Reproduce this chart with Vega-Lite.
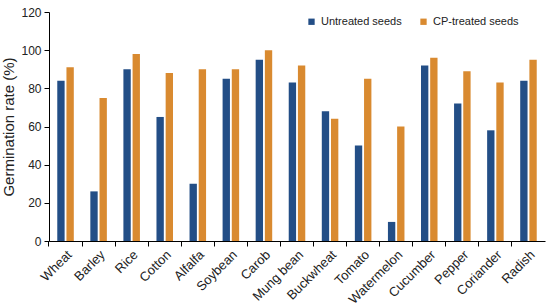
{
  "$schema": "https://vega.github.io/schema/vega-lite/v6.json",
  "width": 496,
  "height": 229,
  "autosize": {"type": "none"},
  "padding": {"left": 49, "top": 12, "right": 5, "bottom": 67},
  "background": "white",
  "config": {
    "font": "Liberation Sans",
    "view": {"stroke": null},
    "axis": {"domainColor": "#000", "tickColor": "#000", "labelColor": "#222", "titleColor": "#222"}
  },
  "data": {
    "values": [
      {"crop": "Wheat", "treatment": "Untreated seeds", "rate": 84},
      {"crop": "Wheat", "treatment": "CP-treated seeds", "rate": 91},
      {"crop": "Barley", "treatment": "Untreated seeds", "rate": 26},
      {"crop": "Barley", "treatment": "CP-treated seeds", "rate": 75},
      {"crop": "Rice", "treatment": "Untreated seeds", "rate": 90},
      {"crop": "Rice", "treatment": "CP-treated seeds", "rate": 98},
      {"crop": "Cotton", "treatment": "Untreated seeds", "rate": 65},
      {"crop": "Cotton", "treatment": "CP-treated seeds", "rate": 88},
      {"crop": "Alfalfa", "treatment": "Untreated seeds", "rate": 30},
      {"crop": "Alfalfa", "treatment": "CP-treated seeds", "rate": 90},
      {"crop": "Soybean", "treatment": "Untreated seeds", "rate": 85},
      {"crop": "Soybean", "treatment": "CP-treated seeds", "rate": 90},
      {"crop": "Carob", "treatment": "Untreated seeds", "rate": 95},
      {"crop": "Carob", "treatment": "CP-treated seeds", "rate": 100},
      {"crop": "Mung bean", "treatment": "Untreated seeds", "rate": 83},
      {"crop": "Mung bean", "treatment": "CP-treated seeds", "rate": 92},
      {"crop": "Buckwheat", "treatment": "Untreated seeds", "rate": 68},
      {"crop": "Buckwheat", "treatment": "CP-treated seeds", "rate": 64},
      {"crop": "Tomato", "treatment": "Untreated seeds", "rate": 50},
      {"crop": "Tomato", "treatment": "CP-treated seeds", "rate": 85},
      {"crop": "Watermelon", "treatment": "Untreated seeds", "rate": 10},
      {"crop": "Watermelon", "treatment": "CP-treated seeds", "rate": 60},
      {"crop": "Cucumber", "treatment": "Untreated seeds", "rate": 92},
      {"crop": "Cucumber", "treatment": "CP-treated seeds", "rate": 96},
      {"crop": "Pepper", "treatment": "Untreated seeds", "rate": 72},
      {"crop": "Pepper", "treatment": "CP-treated seeds", "rate": 89},
      {"crop": "Coriander", "treatment": "Untreated seeds", "rate": 58},
      {"crop": "Coriander", "treatment": "CP-treated seeds", "rate": 83},
      {"crop": "Radish", "treatment": "Untreated seeds", "rate": 84},
      {"crop": "Radish", "treatment": "CP-treated seeds", "rate": 95}
    ]
  },
  "mark": {"type": "bar"},
  "encoding": {
    "x": {
      "field": "crop", "type": "nominal", "sort": null,
      "scale": {"paddingInner": 0, "paddingOuter": 0},
      "axis": {"title": null, "labelAngle": -45, "labelFontSize": 13, "bandPosition": 0, "labelOffset": 0, "tickSize": 5, "grid": false, "labelPadding": 2}
    },
    "xOffset": {
      "field": "treatment", "type": "nominal", "sort": ["Untreated seeds", "CP-treated seeds"],
      "scale": {"paddingInner": 0.2, "paddingOuter": 0.9}
    },
    "y": {
      "field": "rate", "type": "quantitative",
      "scale": {"domain": [0, 120]},
      "axis": {"title": "Germination rate (%)", "values": [0, 20, 40, 60, 80, 100, 120], "grid": false, "labelFontSize": 12, "titleFontSize": 15, "titleFontWeight": "normal", "tickSize": 5, "labelPadding": 3, "titlePadding": 4}
    },
    "color": {
      "field": "treatment", "type": "nominal", "sort": ["Untreated seeds", "CP-treated seeds"],
      "scale": {"domain": ["Untreated seeds", "CP-treated seeds"], "range": ["#234e86", "#d98a30"]},
      "legend": {"title": null, "orient": "none", "direction": "horizontal", "legendX": 257, "legendY": 4, "symbolType": "square", "symbolSize": 40, "symbolStrokeWidth": 0, "labelFontSize": 11, "labelColor": "#222", "columnPadding": 16}
    }
  }
}
